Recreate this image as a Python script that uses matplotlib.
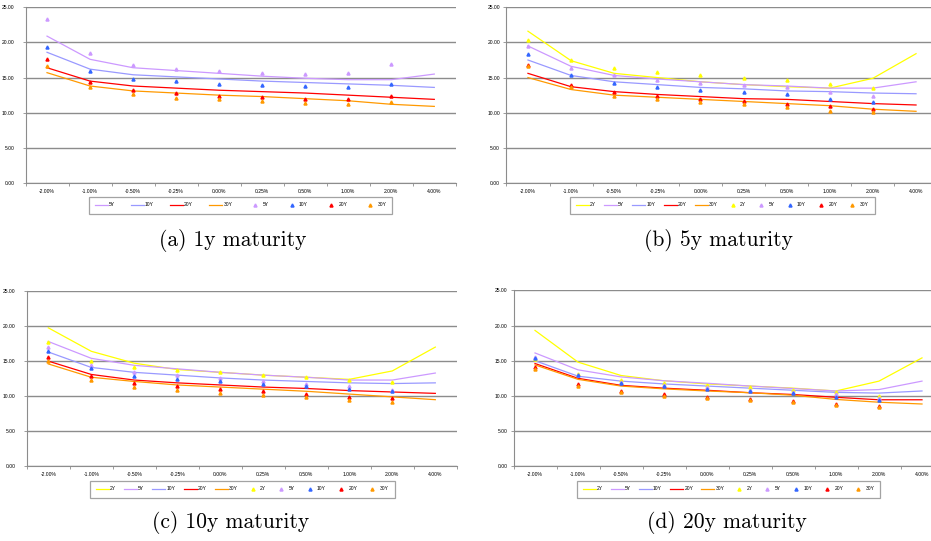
import matplotlib
matplotlib.use('Agg')
import matplotlib.pyplot as plt
import numpy as np

# shift scenarios on the x axis
shifts = ['-2.00%', '-1.00%', '-0.50%', '-0.25%', '0.00%', '0.25%', '0.50%', '1.00%', '2.00%', '4.00%']
yticks = [0, 5, 10, 15, 20, 25]

# (a) 1y maturity: fitted lines and market points
a_line_5y = [20.9, 17.6, 16.4, 16.0, 15.6, 15.2, 14.9, 14.7, 14.7, 15.5]
a_line_10y = [18.6, 16.2, 15.4, 15.1, 14.8, 14.5, 14.3, 14.1, 13.9, 13.6]
a_line_20y = [16.4, 14.5, 13.8, 13.5, 13.2, 13.0, 12.8, 12.5, 12.2, 11.9]
a_line_30y = [15.7, 13.8, 13.1, 12.8, 12.5, 12.3, 12.0, 11.7, 11.2, 10.9]
a_mk_5y = [23.3, 18.5, 16.8, 16.2, 15.9, 15.6, 15.5, 15.7, 16.9]
a_mk_10y = [19.3, 16.0, 14.8, 14.5, 14.1, 13.9, 13.8, 13.7, 14.1]
a_mk_20y = [17.7, 14.4, 13.2, 12.8, 12.4, 12.2, 12.0, 12.0, 12.4]
a_mk_30y = [16.7, 13.6, 12.6, 12.1, 11.9, 11.6, 11.4, 11.3, 11.5]

# (b) 5y maturity
b_line_2y = [21.6, 17.4, 15.6, 15.0, 14.4, 14.0, 13.7, 13.5, 14.9, 18.4]
b_line_5y = [19.5, 16.6, 15.3, 14.8, 14.4, 14.0, 13.8, 13.5, 13.5, 14.4]
b_line_10y = [17.5, 15.3, 14.4, 14.0, 13.6, 13.4, 13.1, 13.0, 12.8, 12.7]
b_line_20y = [15.6, 13.7, 13.0, 12.6, 12.3, 12.0, 11.9, 11.6, 11.3, 11.1]
b_line_30y = [15.0, 13.3, 12.5, 12.2, 11.9, 11.6, 11.3, 11.0, 10.5, 10.2]
b_mk_2y = [20.4, 17.5, 16.3, 15.8, 15.4, 15.0, 14.7, 14.1, 13.5]
b_mk_5y = [19.5, 16.4, 15.3, 14.7, 14.2, 13.9, 13.6, 13.0, 12.4]
b_mk_10y = [18.3, 15.3, 14.2, 13.7, 13.3, 13.0, 12.6, 12.0, 11.5]
b_mk_20y = [16.8, 14.0, 12.9, 12.4, 12.0, 11.7, 11.3, 10.9, 10.5]
b_mk_30y = [16.6, 13.6, 12.4, 12.0, 11.5, 11.2, 10.8, 10.3, 10.1]

# (c) 10y maturity
c_line_2y = [19.75, 16.4, 14.7, 13.8, 13.4, 13.0, 12.7, 12.4, 13.6, 17.0]
c_line_5y = [17.8, 15.4, 14.4, 13.9, 13.4, 13.0, 12.7, 12.3, 12.3, 13.3]
c_line_10y = [16.3, 14.1, 13.4, 13.0, 12.6, 12.3, 12.1, 11.9, 11.8, 11.9]
c_line_20y = [15.0, 13.1, 12.3, 11.9, 11.6, 11.3, 11.1, 10.8, 10.6, 10.4]
c_line_30y = [14.6, 12.7, 12.1, 11.6, 11.3, 11.0, 10.7, 10.3, 9.9, 9.5]
c_mk_2y = [17.7, 15.0, 14.1, 13.8, 13.4, 13.0, 12.7, 12.3, 12.0]
c_mk_5y = [17.0, 14.5, 13.5, 13.0, 12.6, 12.1, 11.7, 11.5, 10.9]
c_mk_10y = [16.5, 14.0, 12.9, 12.5, 12.1, 11.7, 11.4, 11.0, 10.7]
c_mk_20y = [15.6, 12.9, 11.9, 11.5, 11.0, 10.7, 10.3, 9.95, 9.7]
c_mk_30y = [15.0, 12.3, 11.3, 10.9, 10.5, 10.2, 9.9, 9.4, 9.2]

# (d) 20y maturity
d_line_2y = [19.3, 14.8, 12.9, 12.15, 11.7, 11.4, 11.1, 10.7, 12.1, 15.4]
d_line_5y = [16.1, 13.7, 12.7, 12.15, 11.8, 11.4, 11.05, 10.7, 10.9, 12.1]
d_line_10y = [15.0, 12.8, 12.1, 11.7, 11.4, 11.1, 10.8, 10.5, 10.4, 10.7]
d_line_20y = [14.6, 12.5, 11.5, 11.1, 10.8, 10.45, 10.2, 9.8, 9.45, 9.45]
d_line_30y = [14.4, 12.35, 11.4, 11.0, 10.7, 10.45, 10.1, 9.5, 9.1, 8.85]
d_mk_2y = [15.3, 13.1, 12.2, 11.8, 11.5, 11.2, 10.9, 10.6, 10.05]
d_mk_5y = [15.5, 13.0, 12.0, 11.6, 11.2, 10.9, 10.6, 10.2, 9.7]
d_mk_10y = [15.4, 12.9, 11.85, 11.4, 11.0, 10.7, 10.4, 9.9, 9.45]
d_mk_20y = [14.1, 11.7, 10.7, 10.2, 9.8, 9.55, 9.3, 8.9, 8.6]
d_mk_30y = [13.8, 11.4, 10.5, 10.0, 9.7, 9.4, 9.1, 8.7, 8.4]

line_col = {'2Y': '#FFFF00', '5Y': '#CC99FF', '10Y': '#9999FF', '20Y': '#FF0000', '30Y': '#FF9900'}
mk_col = {'2Y': '#FFFF00', '5Y': '#CC99FF', '10Y': '#3366FF', '20Y': '#FF0000', '30Y': '#FF9900'}

W, H = 931, 541
fig = plt.figure(figsize=(W / 100, H / 100), dpi=100)
plt.rcParams['font.family'] = ['Liberation Sans', 'DejaVu Sans']

grey = '#8c8c8c'


def panel(box, legbox, lines, marks, ypad, caption, cap_xy):
    l, r, t, b = box
    ax = fig.add_axes([l / W, 1 - b / H, (r - l) / W, (b - t) / H])
    x = np.arange(len(shifts))
    handles, labels = [], []
    for name, vals in lines.items():
        h, = ax.plot(x, vals, color=line_col[name], lw=0.9, zorder=3)
        handles.append(h)
        labels.append(name)
    for name, vals in marks.items():
        h, = ax.plot(x[:len(vals)], vals, ls='none', marker='^', ms=2.2,
                     color=mk_col[name], mec=mk_col[name], zorder=4)
        handles.append(h)
        labels.append(name)
    ax.set_xlim(-0.5, len(shifts) - 0.5)
    ax.set_ylim(0, 25)
    ax.set_yticks(yticks)
    ax.set_yticklabels(['%.2f' % v for v in yticks])
    ax.set_xticks(x)
    ax.set_xticklabels(shifts)
    ax.set_xticks(np.arange(-0.5, len(shifts)), minor=True)
    ax.tick_params(axis='x', which='major', length=0, labelsize=3.6, pad=4)
    ax.tick_params(axis='x', which='minor', length=2.5, width=0.6, color=grey, direction='out')
    ax.tick_params(axis='y', length=2, width=0.6, color=grey, labelsize=3.6, pad=ypad)
    ax.grid(axis='y', color=grey, lw=1.0)
    ax.set_axisbelow(True)
    for s in ['top', 'right']:
        ax.spines[s].set_visible(False)
    for s in ['left', 'bottom']:
        ax.spines[s].set_color(grey)
        ax.spines[s].set_linewidth(0.8)

    lx0, lx1, ly0, ly1 = legbox
    leg = fig.legend(handles, labels, loc='center', ncol=len(handles), mode='expand',
                     bbox_to_anchor=(lx0 / W, 1 - ly1 / H, (lx1 - lx0) / W, (ly1 - ly0) / H),
                     fontsize=3.6, frameon=True, fancybox=False, handlelength=2.6,
                     handletextpad=0.2, borderpad=1.2, columnspacing=1.0)
    leg.get_frame().set_edgecolor(grey)
    leg.get_frame().set_linewidth(0.9)

    fig.text(cap_xy[0] / W, 1 - cap_xy[1] / H, caption, family='cmr10', fontsize=15.5,
             ha='center', va='center')


panel((25.5, 455.8, 7.3, 183), (86, 395, 197, 213),
      {'5Y': a_line_5y, '10Y': a_line_10y, '20Y': a_line_20y, '30Y': a_line_30y},
      {'5Y': a_mk_5y, '10Y': a_mk_10y, '20Y': a_mk_20y, '30Y': a_mk_30y},
      6, '(a) 1y maturity', (233, 240))

panel((506.4, 937.6, 7.3, 183), (567, 877, 197, 213),
      {'2Y': b_line_2y, '5Y': b_line_5y, '10Y': b_line_10y, '20Y': b_line_20y, '30Y': b_line_30y},
      {'2Y': b_mk_2y, '5Y': b_mk_5y, '10Y': b_mk_10y, '20Y': b_mk_20y, '30Y': b_mk_30y},
      2.5, '(b) 5y maturity', (718, 240))

panel((26.8, 456.8, 291, 466.3), (87, 397, 481, 497),
      {'2Y': c_line_2y, '5Y': c_line_5y, '10Y': c_line_10y, '20Y': c_line_20y, '30Y': c_line_30y},
      {'2Y': c_mk_2y, '5Y': c_mk_5y, '10Y': c_mk_10y, '20Y': c_mk_20y, '30Y': c_mk_30y},
      6, '(c) 10y maturity', (231, 523))

panel((513.5, 943.5, 290.3, 466.3), (574, 883, 481, 497),
      {'2Y': d_line_2y, '5Y': d_line_5y, '10Y': d_line_10y, '20Y': d_line_20y, '30Y': d_line_30y},
      {'2Y': d_mk_2y, '5Y': d_mk_5y, '10Y': d_mk_10y, '20Y': d_mk_20y, '30Y': d_mk_30y},
      2.5, '(d) 20y maturity', (727, 522))

fig.savefig('out.png', dpi=100)
